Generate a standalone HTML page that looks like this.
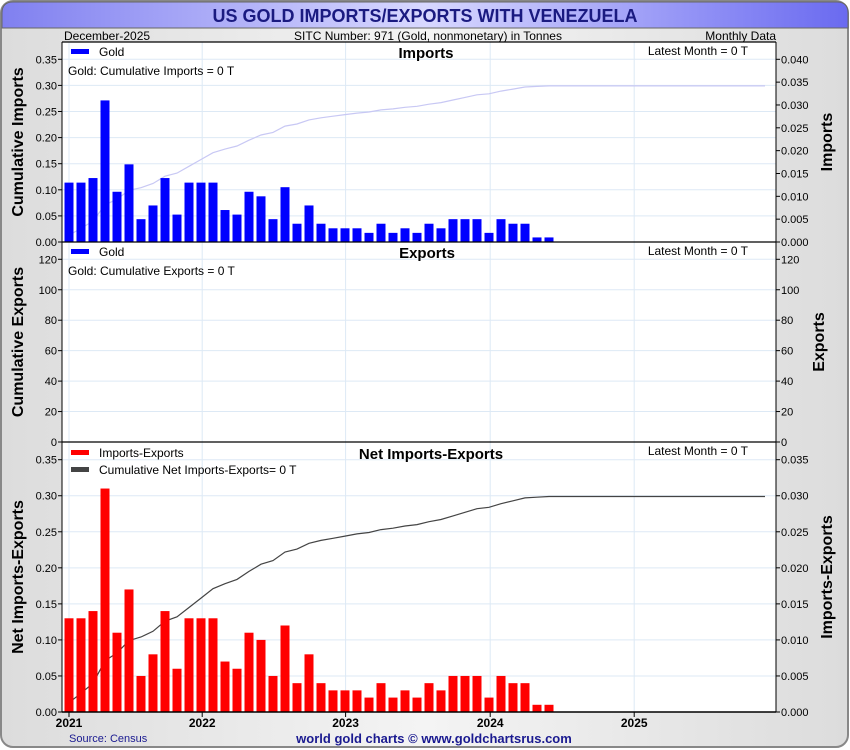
<!DOCTYPE html>
<html><head><meta charset="utf-8"><style>
html,body{margin:0;padding:0;background:#fff}
svg{display:block;font-family:"Liberation Sans",sans-serif}
</style></head><body>
<svg id="chart" width="850" height="750" viewBox="0 0 850 750">
<defs>
<linearGradient id="hdr" x1="0" x2="1" y1="0" y2="0">
<stop offset="0" stop-color="#8080f0"/><stop offset="0.5" stop-color="#d8d8ff"/><stop offset="1" stop-color="#6a6af0"/>
</linearGradient>
<linearGradient id="bg" x1="0" x2="1"><stop offset="0" stop-color="#dcdcdc"/><stop offset="0.5" stop-color="#f4f4f4"/><stop offset="1" stop-color="#dcdcdc"/></linearGradient>
</defs>
<rect x="1" y="1" width="847" height="746" rx="12" fill="url(#bg)" stroke="#888" stroke-width="2"/>
<path d="M2 28 V13 Q2 2 13 2 H837 Q848 2 848 13 V28 Z" fill="url(#hdr)" stroke="#666"/>
<text x="425" y="22" text-anchor="middle" font-size="18" font-weight="bold" fill="#1a1a80">US GOLD IMPORTS/EXPORTS WITH VENEZUELA</text>
<text x="64" y="40" font-size="12" fill="#000">December-2025</text>
<text x="428" y="40" text-anchor="middle" font-size="12">SITC Number: 971 (Gold, nonmonetary) in Tonnes</text>
<text x="776" y="40" text-anchor="end" font-size="12">Monthly Data</text>
<rect x="62" y="42" width="714" height="670" fill="#fff"/>
<g id="grid"></g>
<g id="marks"></g>
<g id="axes"></g>
<text x="69" y="742" font-size="11" fill="#1a1a90">Source: Census</text>
<text x="434" y="743" text-anchor="middle" font-size="13" font-weight="bold" fill="#1a1a90">world gold charts © www.goldchartsrus.com</text>
</svg>
<script>
const netValues=[0.13,0.13,0.14,0.31,0.11,0.17,0.05,0.08,0.14,0.06,0.13,0.13,0.13,0.07,0.06,0.11,0.10,0.05,0.12,0.04,0.08,0.04,0.03,0.03,0.03,0.02,0.04,0.02,0.03,0.02,0.04,0.03,0.05,0.05,0.05,0.02,0.05,0.04,0.04,0.01,0.01];
const importValues=[0.013,0.013,0.014,0.031,0.011,0.017,0.005,0.008,0.014,0.006,0.013,0.013,0.013,0.007,0.006,0.011,0.010,0.005,0.012,0.004,0.008,0.004,0.003,0.003,0.003,0.002,0.004,0.002,0.003,0.002,0.004,0.003,0.005,0.005,0.005,0.002,0.005,0.004,0.004,0.001,0.001];
const exportValues=[];
const yearLabels=["2021","2022","2023","2024","2025"];
const yearTickMonths=[0,11.1,23.05,35.1,47.1];
const totalMonths=59;
const impLeftTicks=[0,0.05,0.10,0.15,0.20,0.25,0.30,0.35];
const impRightTicks=[0,0.005,0.010,0.015,0.020,0.025,0.030,0.035,0.040];
const expTicks=[0,20,40,60,80,100,120];
const netLeftTicks=[0,0.05,0.10,0.15,0.20,0.25,0.30,0.35];
const netRightTicks=[0,0.005,0.010,0.015,0.020,0.025,0.030,0.035];

const NS="http://www.w3.org/2000/svg";
const X0=62,X1=776;
function xm(i){return 69+12*i;}
function lin(d0,d1,r0,r1){return v=>r0+(v-d0)/(d1-d0)*(r1-r0);}
const impL=lin(0,0.35,242,59.3), impR=lin(0,0.040,242,59.3);
const expY=lin(0,120,442,259.3);
const netL=lin(0,0.35,712,459.7), netR=lin(0,0.035,712,459.7);
function el(tag,attrs,parent,txt){const e=document.createElementNS(NS,tag);for(const k in attrs)e.setAttribute(k,attrs[k]);if(txt!==undefined)e.textContent=txt;document.getElementById(parent).appendChild(e);return e;}

// grid
[[42,242],[242,442],[442,712]].forEach(([t,b])=>{
  yearTickMonths.forEach(m=>{const g=el('line',{x1:xm(m),x2:xm(m),y1:t,y2:b,stroke:'#dde9f5','stroke-width':1},'grid');
  
  });
});
function hgrid(ticks,sc){ticks.forEach(v=>{const g=el('line',{x1:X0,x2:X1,y1:sc(v),y2:sc(v),stroke:'#dde9f5'},'grid');
  
  });}
hgrid(impLeftTicks,impL);hgrid(expTicks,expY);hgrid(netLeftTicks,netL);

// cumulative
function cum(arr){let s=0;return arr.map(v=>s+=v);}
const cNet=cum(netValues);
function cumPath(scale,factor){let pts=[];for(let i=0;i<totalMonths;i++){const v=cNet[Math.min(i,cNet.length-1)]*factor;pts.push((i?'L':'M')+xm(i).toFixed(1)+' '+scale(v).toFixed(1));}return pts.join(' ');}
const ci=el('path',{d:cumPath(impL,0.1),fill:'none',stroke:'#c8c8f4','stroke-width':1.2},'marks');


const cn=el('path',{d:cumPath(netR,0.01),fill:'none',stroke:'#444','stroke-width':1.2},'marks');



// bars
importValues.forEach((v,i)=>{const b=el('rect',{x:xm(i)-4.5,y:impR(v),width:9,height:242-impR(v),fill:'#0000ff'},'marks');
  
  });
exportValues.forEach((v,i)=>{const b=el('rect',{x:xm(i)-4.5,y:expY(v),width:9,height:442-expY(v),fill:'#0000ff'},'marks');
  
  });
netValues.forEach((v,i)=>{const b=el('rect',{x:xm(i)-4.5,y:netL(v),width:9,height:712-netL(v),fill:'#ff0000'},'marks');
  
  });

// axes frame
[[42],[242],[442],[712]].forEach(([y])=>{const l=el('line',{x1:X0,x2:X1,y1:y,y2:y,stroke:'#000','stroke-width':y==712?1.5:1.2},'axes');
  
  });
const la=el('line',{x1:X0,x2:X0,y1:42,y2:712,stroke:'#000'},'axes');


const ra=el('line',{x1:X1,x2:X1,y1:42,y2:712,stroke:'#000'},'axes');



function ticks(list,sc,fmt,side){list.forEach(v=>{const y=sc(v);
  const x=side=='L'?57:781;
  const t=el('text',{x:x,y:y+4,'font-size':11,'text-anchor':side=='L'?'end':'start'},'axes',fmt(v));
  
  
  el('line',{x1:side=='L'?58:X1,x2:side=='L'?X0:780,y1:y,y2:y,stroke:'#000'},'axes');});}
ticks(impLeftTicks,impL,v=>v.toFixed(2),'L');
ticks(impRightTicks,impR,v=>v.toFixed(3),'R');
ticks(expTicks,expY,v=>String(v),'L');
ticks(expTicks,expY,v=>String(v),'R');
ticks(netLeftTicks,netL,v=>v.toFixed(2),'L');
ticks(netRightTicks,netR,v=>v.toFixed(3),'R');

yearLabels.forEach((lab,i)=>{const x=xm(yearTickMonths[i]);
  el('line',{x1:x,x2:x,y1:712,y2:717,stroke:'#000'},'axes');
  const t=el('text',{x:x,y:727,'font-size':12,'font-weight':'bold','text-anchor':'middle'},'axes',lab);
  
  });

function txt(attrs,s,name){const t=el('text',attrs,'axes',s);
  
  return t;}
function rot(x,y,s,name){return txt({x:x,y:y,'font-size':16,'font-weight':'bold','text-anchor':'middle',transform:`rotate(-90 ${x} ${y})`},s,name);}
rot(23,142,'Cumulative Imports','imports-left-axis-title');
rot(832,142,'Imports','imports-right-axis-title');
rot(23,342,'Cumulative Exports','exports-left-axis-title');
rot(824,342,'Exports','exports-right-axis-title');
rot(23,577,'Net Imports-Exports','net-left-axis-title');
rot(832,577,'Imports-Exports','net-right-axis-title');

txt({x:426,y:58,'font-size':15,'font-weight':'bold','text-anchor':'middle'},'Imports','imports-panel-title');
txt({x:427,y:258,'font-size':15,'font-weight':'bold','text-anchor':'middle'},'Exports','exports-panel-title');
txt({x:431,y:459,'font-size':15,'font-weight':'bold','text-anchor':'middle'},'Net Imports-Exports','net-panel-title');
[55,255,455].forEach(y=>txt({x:748,y:y,'font-size':12,'text-anchor':'end'},'Latest Month = 0 T','latest-month-label'));

function legend(y,color,label,name){const r=el('rect',{x:71,y:y-7,width:18,height:5,fill:color},'axes');
  
  
  txt({x:99,y:y,'font-size':12},label,name);}
legend(56,'#0000ff','Gold','imports-legend-entry');
legend(256,'#0000ff','Gold','exports-legend-entry');
legend(457,'#ff0000','Imports-Exports','net-legend-entry');
legend(474,'#444','Cumulative Net Imports-Exports= 0 T','cumulative-net-legend-entry');
txt({x:68,y:75,'font-size':12},'Gold: Cumulative Imports = 0 T','cumulative-imports-note');
txt({x:68,y:275,'font-size':12},'Gold: Cumulative Exports = 0 T','cumulative-exports-note');
</script>
</body></html>
